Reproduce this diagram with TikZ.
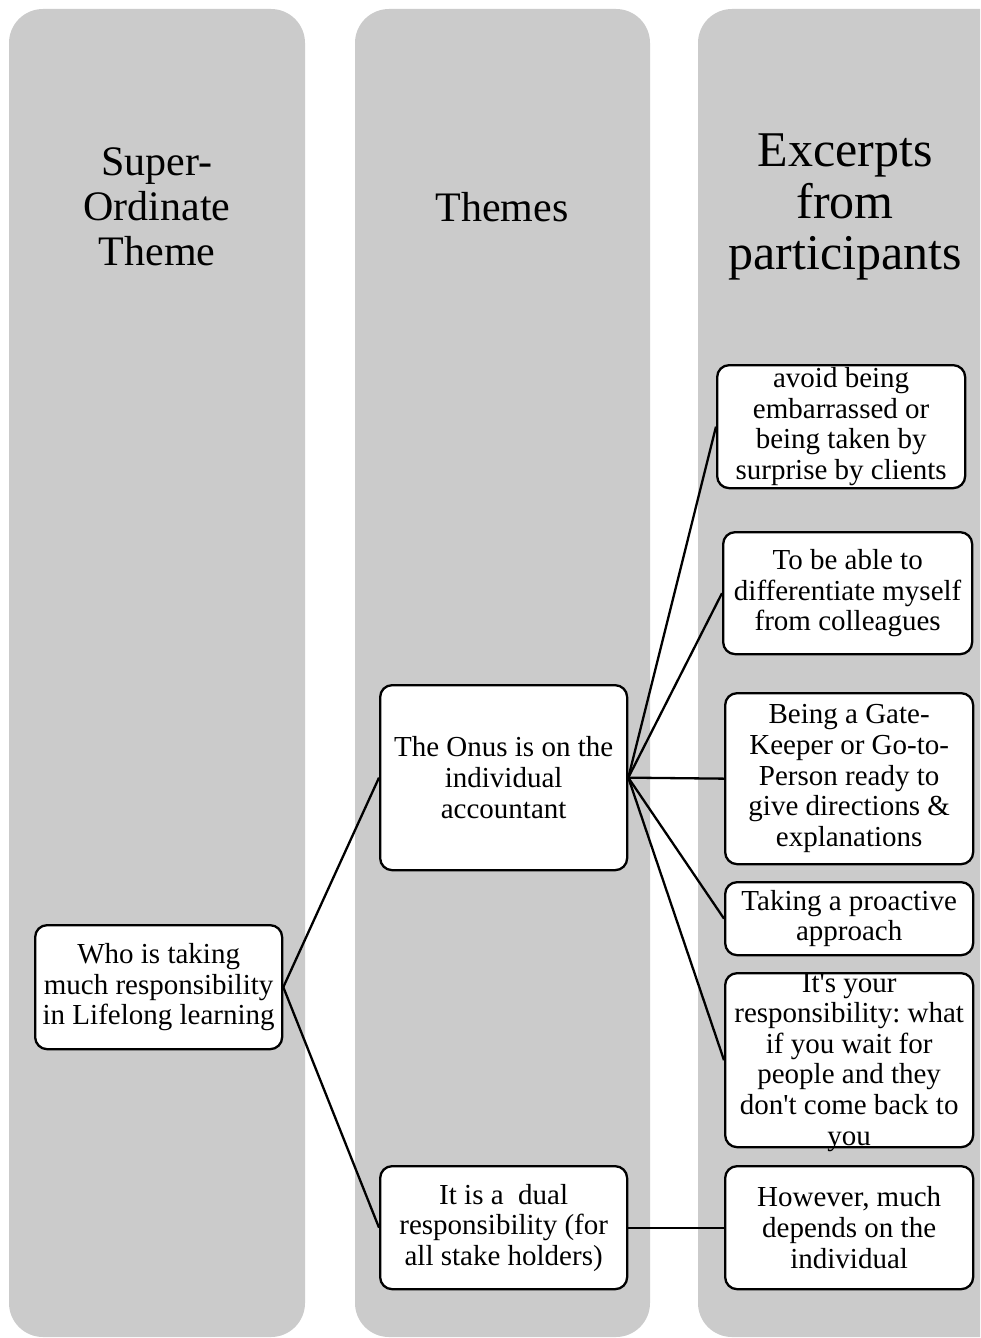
\documentclass[tikz,border=0pt]{standalone}
\usepackage{fontspec}
\setmainfont{Liberation Serif}[Ligatures=TeXOff]
\definecolor{panelgray}{RGB}{203,203,203}
\frenchspacing
\begin{document}
\begin{tikzpicture}[x=1pt,y=-1pt,
  column/.style={fill=panelgray, rounded corners=34pt},
  header/.style={align=center, inner sep=0pt},
  box/.style={draw=black, fill=white, line width=2.3pt, rounded corners=12pt,
    inner sep=0pt, align=center, anchor=north west,
    font=\fontsize{29}{30.6}\selectfont},
  boxtext/.style={inner sep=0pt, align=center,
    font=\fontsize{29}{30.6}\selectfont},
  link/.style={line width=2.3pt}]
\useasboundingbox (0,0) rectangle (980,1338);
\clip (0,0) rectangle (980,1338);

% three column panels
\fill[column] (9,9) rectangle (305,1337);
\fill[column] (355,9) rectangle (650,1337);
\fill[column] (698,9) rectangle (1030,1337);

% column headings
\node[header, font=\fontsize{42}{45}\selectfont] (h1) at (157,207) {Super-\\Ordinate\\Theme};
\node[header, font=\fontsize{42}{45}\selectfont] (h2) at (502,207) {Themes};
\node[header, font=\fontsize{50}{51.5}\selectfont] (h3) at (845,207) {Excerpts\\from\\participants};

% super-ordinate theme
\node[box, minimum width=247pt, minimum height=124pt] (A) at (34,924)
  {Who is taking\\much responsibility\\in Lifelong learning};

% themes
\node[box, minimum width=247pt, minimum height=185pt] (B) at (379,684)
  {The Onus is on the\\individual\\accountant};
\node[box, minimum width=247pt, minimum height=123pt] (C) at (379,1165)
  {It is a\ \ dual\\responsibility (for\\all stake holders)};

% excerpts
\node[box, minimum width=248pt, minimum height=123pt] (e1) at (716,364)
  {avoid being\\embarrassed or\\being taken by\\surprise by clients};
\node[box, minimum width=249pt, minimum height=122pt] (e2) at (722,531)
  {To be able to\\differentiate myself\\from colleagues};
\node[box, minimum width=248pt, minimum height=171pt] (e3) at (724,692)
  {Being a Gate-\\Keeper or Go-to-\\Person ready to\\give directions \&\\explanations};
\node[box, minimum width=248pt, minimum height=73pt] (e4) at (724,881)
  {Taking a proactive\\approach};
\node[box, minimum width=248pt, minimum height=174pt] (e5) at (724,972) {};
\node[boxtext] (e5t) at ([yshift=-2pt]e5.center)
  {It's your\\responsibility: what\\if you wait for\\people and they\\don't come back to\\you};
\node[box, minimum width=248pt, minimum height=123pt] (e6) at (724,1165)
  {However, much\\depends on the\\individual};

% connectors
\draw[link] (A.east) -- (B.west);
\draw[link] (A.east) -- (C.west);
\foreach \e in {e1,e2,e3,e4,e5}
  \draw[link] (B.east) -- (\e.west);
\draw[link] (C.east) -- (e6.west);
\end{tikzpicture}
\end{document}
